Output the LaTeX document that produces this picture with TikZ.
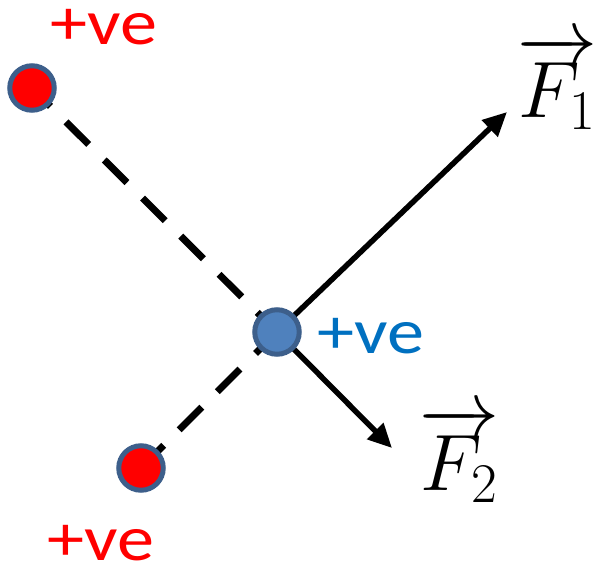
\RequirePackage{fix-cm}
\documentclass[tikz,border=0pt]{standalone}
\usepackage{fontspec}
\setmainfont{Carlito}
\usetikzlibrary{arrows.meta}
\definecolor{chgedge}{HTML}{3D5F8B}
\definecolor{chgblue}{HTML}{4F81BD}
\definecolor{txtblue}{HTML}{0070C0}
\tikzset{
  charge/.style={circle,draw=chgedge,line width=5pt,minimum size=44.5pt,inner sep=0pt},
  dashline/.style={line width=7pt,dash pattern=on 32pt off 22pt},
  force/.style={line width=5.5pt,-{Triangle[length=24pt,width=22pt]}},
  lbl/.style={font=\fontsize{64}{68}\selectfont,inner sep=0pt,anchor=base},
  flbl/.style={inner sep=0pt,anchor=base,font=\fontsize{80}{90}\selectfont}
}
\newcommand{\wideve}{\scalebox{1.16}[1]{+ve}}
\begin{document}
\begin{tikzpicture}[x=1pt,y=-1pt]
\useasboundingbox (0,0) rectangle (600,567);
\coordinate (c) at (277,332);
\coordinate (a) at (32,88);
\coordinate (b) at (141,468);
\draw[dashline,dash phase=6pt] (a) -- (c);
\draw[dashline,dash phase=0pt] (b) -- (c);
\coordinate (e1) at (507,112);
\coordinate (e2) at (392,448);
\draw[force] (c) -- (e1);
\draw[force] (c) -- (e2);
\node[charge,fill=red] (qa) at (a) {};
\node[charge,fill=red] (qb) at (b) {};
\node[charge,fill=chgblue] (qc) at (c) {};
\node[lbl,text=red] (la) at (104,45) {\wideve};
\node[lbl,text=red] (lb) at (101,560) {\wideve};
\node[lbl,text=txtblue] (lc) at (371,353) {\wideve};
\node[flbl] (f1) at (557,118) {$\overrightarrow{F_1}$};
\node[flbl] (f2) at (459,490) {$\overrightarrow{F_2}$};
\end{tikzpicture}
\end{document}
